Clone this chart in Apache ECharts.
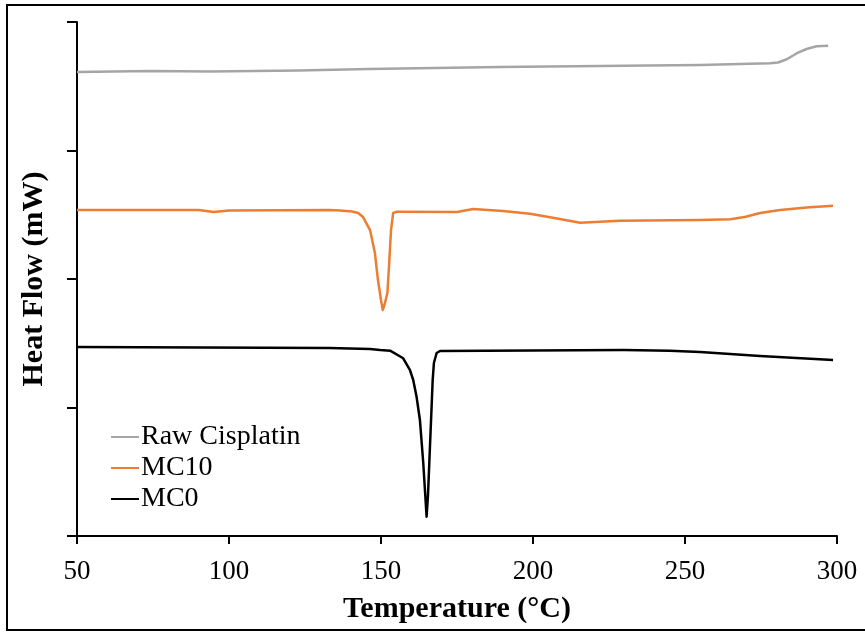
<!DOCTYPE html>
<html>
<head>
    <meta charset="utf-8">
    <title>DSC</title>
    <script src="https://cdn.jsdelivr.net/npm/echarts@6/dist/echarts.min.js"></script>
</head>
<style>
    *{
        padding: 0;
        margin: 0;
    }
    #main {
        width: 865px;
        height: 632px;
        position: absolute
    }
</style>
<body>
    <div id="main"></div>
    <script type="text/javascript">
    // temperature (°C), heat flow (arbitrary offset units, one y tick = 1)
    var rawT   = [50, 74, 94, 123, 146, 189, 238, 254.9, 278, 280.6, 283.5, 286.8, 290.0, 293.3, 297.1];
    var rawHF  = [3.611, 3.619, 3.615, 3.623, 3.634, 3.650, 3.662, 3.665, 3.679, 3.685, 3.710, 3.757, 3.790, 3.811, 3.816];

    var mc10T  = [50, 90, 95, 100, 133, 136.5, 140.5, 142.5, 144.1, 146.4, 148.0, 149.0, 150.0, 150.6, 151.3, 152.1, 152.7, 153.3, 154.0, 155.2,
                  175, 180.3, 190.1, 199, 207, 215.5, 228.6, 254.9, 265, 270, 274.7, 281.3, 290, 298.7];
    var mc10HF = [2.537, 2.537, 2.521, 2.533, 2.537, 2.533, 2.525, 2.514, 2.482, 2.381, 2.202, 1.992, 1.837, 1.759, 1.813, 1.891, 2.125, 2.381, 2.514, 2.524,
                  2.521, 2.545, 2.529, 2.507, 2.475, 2.438, 2.454, 2.459, 2.465, 2.485, 2.513, 2.537, 2.556, 2.570];

    var mc0T   = [50, 133, 146.4, 149.7, 153.0, 157.3, 159.5, 160.6, 161.7, 162.8, 163.9, 165.0, 165.46, 166.1, 166.6, 167.0, 167.4, 168.3, 169.4,
                  230, 245, 255, 274.7, 298.7];
    var mc0HF  = [1.471, 1.463, 1.455, 1.447, 1.442, 1.383, 1.292, 1.214, 1.084, 0.903, 0.568, 0.150, 0.319, 0.693, 0.981, 1.214, 1.346, 1.424, 1.440,
                  1.447, 1.442, 1.432, 1.401, 1.370];

    var xTicks = [50, 100, 150, 200, 250, 300];

    function pairs(t, v) {
        var out = [];
        for (var i = 0; i < t.length; i++) out.push([t[i], v[i]]);
        return out;
    }

    var myChart = echarts.init(document.getElementById('main'));
    var font = '"Liberation Serif", "Times New Roman", serif';
    var option = {
        backgroundColor: '#fff',
        animation: false,
        graphic: [{
            type: 'rect',
            shape: {x: 7, y: 5, width: 880, height: 625},
            style: {fill: 'none', stroke: '#000', lineWidth: 2}
        }],
        grid: {left: 77, right: 28, top: 22, bottom: 96},
        legend: {
            orient: 'vertical',
            left: 106,
            top: 418,
            icon: 'rect',
            itemWidth: 28,
            itemHeight: 2,
            itemGap: 3,
            textStyle: {fontFamily: font, fontSize: 28, color: '#000', padding: [0, 0, 0, -3]},
            data: ['Raw Cisplatin', 'MC10', 'MC0']
        },
        xAxis: {
            type: 'value',
            min: 50,
            max: 300,
            interval: 50,
            name: 'Temperature (°C)',
            nameLocation: 'middle',
            nameGap: 58,
            nameTextStyle: {fontFamily: font, fontSize: 30, fontWeight: 'bold', color: '#000'},
            axisLine: {lineStyle: {color: '#000', width: 2}},
            axisTick: {show: true, length: 8, lineStyle: {color: '#000', width: 2}},
            axisLabel: {
                fontFamily: font, fontSize: 27, color: '#000', margin: 22,
                formatter: function (v) { return xTicks.indexOf(v) >= 0 ? String(v) : ''; }
            },
            splitLine: {show: false}
        },
        yAxis: {
            type: 'value',
            min: 0,
            max: 4,
            interval: 1,
            name: 'Heat Flow (mW)',
            nameLocation: 'middle',
            nameGap: 28,
            nameTextStyle: {fontFamily: font, fontSize: 30, fontWeight: 'bold', color: '#000'},
            axisLine: {show: true, lineStyle: {color: '#000', width: 2}},
            axisTick: {show: true, length: 10, lineStyle: {color: '#000', width: 2}},
            axisLabel: {show: false},
            splitLine: {show: false}
        },
        series: [{
            name: 'Raw Cisplatin',
            type: 'line',
            symbol: 'none',
            data: pairs(rawT, rawHF),
            lineStyle: {color: '#a5a5a5', width: 2.5, join: 'round'},
            itemStyle: {color: '#a5a5a5'}
        }, {
            name: 'MC10',
            type: 'line',
            symbol: 'none',
            data: pairs(mc10T, mc10HF),
            lineStyle: {color: '#ed7d31', width: 2.5, join: 'round'},
            itemStyle: {color: '#ed7d31'}
        }, {
            name: 'MC0',
            type: 'line',
            symbol: 'none',
            data: pairs(mc0T, mc0HF),
            lineStyle: {color: '#000', width: 2.5, join: 'round'},
            itemStyle: {color: '#000'}
        }]
    };
    myChart.setOption(option);
    </script>
</body>
</html>
